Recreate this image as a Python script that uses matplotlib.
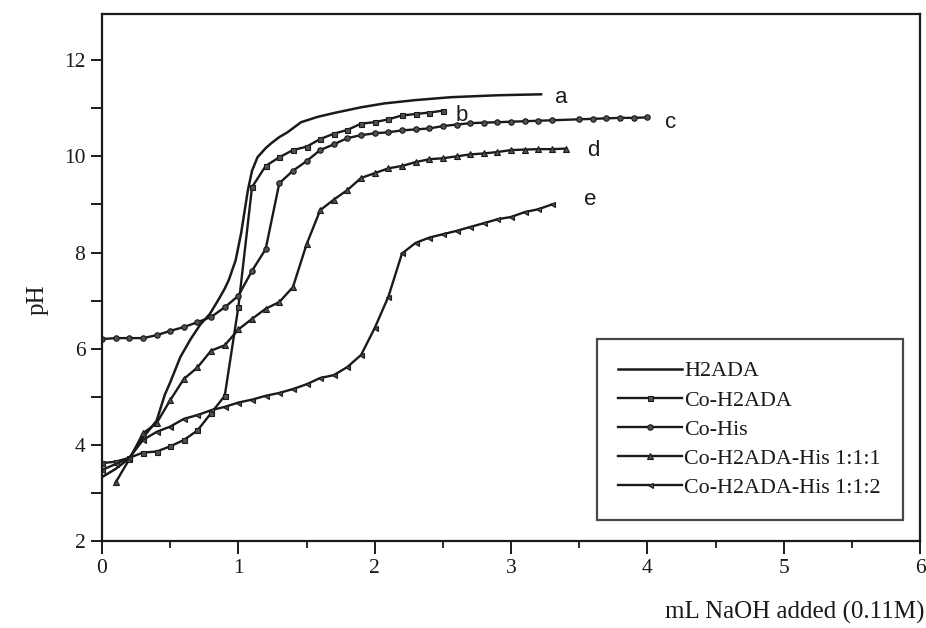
import matplotlib
matplotlib.use("Agg")
import matplotlib.pyplot as plt
from matplotlib.ticker import MultipleLocator

# Titration curves (mL NaOH 0.11M vs pH)
x_a = [0.0, 0.1, 0.2, 0.3, 0.4, 0.46, 0.5, 0.575, 0.65, 0.72, 0.79, 0.85, 0.9,
       0.93, 0.98, 1.02, 1.07, 1.1, 1.14, 1.2, 1.24, 1.3, 1.36, 1.46, 1.58,
       1.7, 1.9, 2.07, 2.3, 2.56, 2.9, 3.22]
ph_a = [3.33, 3.5, 3.72, 4.15, 4.5, 5.04, 5.3, 5.83, 6.2, 6.5, 6.72, 7.0, 7.25,
        7.43, 7.84, 8.4, 9.3, 9.7, 9.98, 10.17, 10.27, 10.4, 10.5, 10.71, 10.82,
        10.9, 11.02, 11.1, 11.17, 11.23, 11.27, 11.29]

x_b = [0.0, 0.1, 0.2, 0.3, 0.4, 0.5, 0.6, 0.7, 0.8, 0.9, 1.0, 1.1, 1.2, 1.3,
       1.4, 1.5, 1.6, 1.7, 1.8, 1.9, 2.0, 2.1, 2.2, 2.3, 2.4, 2.5]
ph_b = [3.62, 3.65, 3.73, 3.84, 3.86, 3.97, 4.1, 4.3, 4.66, 5.02, 6.87, 9.36,
        9.8, 9.98, 10.13, 10.2, 10.36, 10.47, 10.55, 10.68, 10.71, 10.77, 10.85,
        10.88, 10.91, 10.95]

x_c = [0.0, 0.1, 0.2, 0.3, 0.4, 0.5, 0.6, 0.7, 0.8, 0.9, 1.0, 1.1, 1.2, 1.3,
       1.4, 1.5, 1.6, 1.7, 1.8, 1.9, 2.0, 2.1, 2.2, 2.3, 2.4, 2.5, 2.6, 2.7,
       2.8, 2.9, 3.0, 3.1, 3.2, 3.3, 3.5, 3.6, 3.7, 3.8, 3.9, 4.0]
ph_c = [6.2, 6.22, 6.22, 6.22, 6.28, 6.37, 6.45, 6.55, 6.66, 6.86, 7.1, 7.62,
        8.07, 9.44, 9.7, 9.9, 10.13, 10.25, 10.38, 10.44, 10.48, 10.5, 10.54,
        10.56, 10.58, 10.63, 10.66, 10.69, 10.7, 10.71, 10.72, 10.73, 10.74,
        10.75, 10.77, 10.78, 10.79, 10.8, 10.8, 10.81]

x_d = [0.1, 0.2, 0.3, 0.4, 0.5, 0.6, 0.7, 0.8, 0.9, 1.0, 1.1, 1.2, 1.3, 1.4,
       1.5, 1.6, 1.7, 1.8, 1.9, 2.0, 2.1, 2.2, 2.3, 2.4, 2.5, 2.6, 2.7, 2.8,
       2.9, 3.0, 3.1, 3.2, 3.3, 3.4]
ph_d = [3.22, 3.7, 4.24, 4.45, 4.93, 5.37, 5.61, 5.96, 6.07, 6.4, 6.62, 6.83,
        6.97, 7.28, 8.17, 8.88, 9.1, 9.3, 9.55, 9.65, 9.75, 9.8, 9.88, 9.94,
        9.96, 10.0, 10.04, 10.06, 10.09, 10.13, 10.14, 10.15, 10.15, 10.16]

x_e = [0.0, 0.1, 0.2, 0.3, 0.4, 0.5, 0.6, 0.7, 0.8, 0.9, 1.0, 1.1, 1.2, 1.3,
       1.4, 1.5, 1.6, 1.7, 1.8, 1.9, 2.0, 2.1, 2.2, 2.3, 2.4, 2.5, 2.6, 2.7,
       2.8, 2.9, 3.0, 3.1, 3.2, 3.3]
ph_e = [3.48, 3.6, 3.73, 4.1, 4.27, 4.38, 4.54, 4.62, 4.72, 4.79, 4.88, 4.94,
        5.02, 5.08, 5.16, 5.26, 5.39, 5.45, 5.62, 5.87, 6.43, 7.08, 7.98, 8.2,
        8.31, 8.38, 8.45, 8.53, 8.61, 8.69, 8.74, 8.84, 8.9, 9.0]

legend_names = ["H2ADA", "Co-H2ADA", "Co-His", "Co-H2ADA-His 1:1:1",
                "Co-H2ADA-His 1:1:2"]
curve_tags = ["a", "b", "c", "d", "e"]
tag_x = [3.37, 2.64, 4.17, 3.6, 3.58]
tag_y = [11.22, 10.85, 10.7, 10.12, 9.1]

INK = "#1a1a1a"
SERIF = ["Liberation Serif", "DejaVu Serif"]

fig = plt.figure(figsize=(9.26, 6.28), dpi=100)
ax = fig.add_axes([0.1102, 0.1385, 0.8834, 0.8392])

style = dict(color=INK, lw=1.7, markeredgecolor=INK, markerfacecolor="#505050",
             markeredgewidth=0.8)
ax.plot(x_a, ph_a, color=INK, lw=1.8, label=legend_names[0])
ax.plot(x_b, ph_b, marker="s", ms=3.6, label=legend_names[1], **style)
ax.plot(x_c, ph_c, marker="o", ms=3.9, label=legend_names[2], **style)
ax.plot(x_d, ph_d, marker="^", ms=4.6, label=legend_names[3], **style)
ax.plot(x_e, ph_e, marker="<", ms=3.6, label=legend_names[4], **style)

for t, tx, ty in zip(curve_tags, tag_x, tag_y):
    ax.text(tx, ty, t, fontsize=16, family=["Liberation Sans", "DejaVu Sans"],
            color=INK, ha="center", va="center")

ax.set_xlim(0, 6)
ax.set_ylim(2, 12.96)
ax.xaxis.set_major_locator(MultipleLocator(1))
ax.xaxis.set_minor_locator(MultipleLocator(0.5))
ax.yaxis.set_major_locator(MultipleLocator(2))
ax.yaxis.set_minor_locator(MultipleLocator(1))
ax.tick_params(axis="x", which="major", direction="out", length=9, width=1.4,
               pad=4, colors=INK)
ax.tick_params(axis="x", which="minor", direction="out", length=5, width=1.3,
               colors=INK)
ax.tick_params(axis="y", which="both", direction="out", length=8, width=1.4,
               pad=4, colors=INK)
for lab in ax.get_xticklabels() + ax.get_yticklabels():
    lab.set_family(SERIF)
    lab.set_fontsize(15.5)
for sp in ax.spines.values():
    sp.set_linewidth(1.6)
    sp.set_color(INK)

fig.text(0.998, 1 - 612 / 628, "mL NaOH added (0.11M)", family=SERIF,
         fontsize=18, ha="right", va="center", color=INK)
fig.text(38 / 926, 1 - 300 / 628, "pH", family=SERIF, fontsize=18,
         rotation=90, ha="center", va="center", color=INK)

leg = ax.legend(loc="lower right", bbox_to_anchor=(0.979, 0.04),
                borderaxespad=0, numpoints=1, fancybox=False, handlelength=2.9,
                labelspacing=0.4, handletextpad=0.1, borderpad=1.0,
                prop={"family": SERIF, "size": 15.8})
leg.get_frame().set_edgecolor(INK)
leg.get_frame().set_linewidth(1.6)
for txt in leg.get_texts():
    txt.set_color(INK)

fig.savefig("out.png", dpi=100)
